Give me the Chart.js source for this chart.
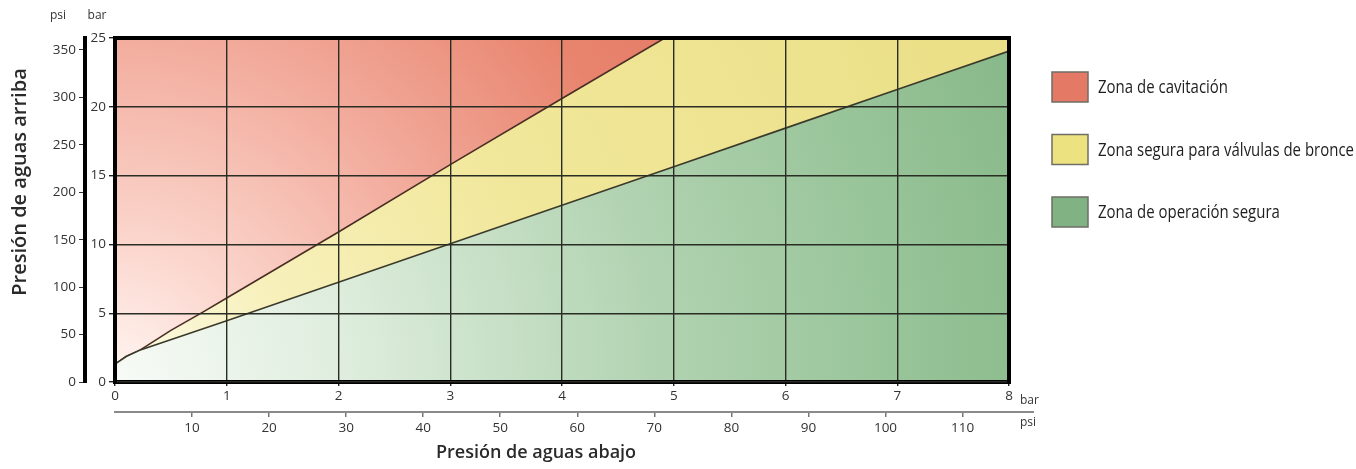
<!DOCTYPE html>
<html lang="es">
<head>
  <meta charset="UTF-8" />
  <title>Presión de aguas arriba vs. aguas abajo</title>
  <script src="https://cdn.jsdelivr.net/npm/chart.js"></script>
  <style>
    html, body { margin: 0; padding: 0; background: #fff; }
  </style>
</head>
<body>
  <canvas id="zonas" width="1356" height="469"></canvas>

  <script>
    const BAR_TO_PSI = 14.5038;

    // presión de aguas abajo (bar) -> presión de aguas arriba (bar)
    const seguraX = [0, 0.1, 0.22, 1, 2, 3, 4, 5, 6, 7, 8];
    const seguraY = [1.3, 1.85, 2.3, 4.45, 7.25, 10.05, 12.85, 15.65, 18.45, 21.25, 24.05];
    const cavitacionX = [0, 0.1, 0.22, 0.5, 0.79, 1, 2, 3, 4, 4.92, 8];
    const cavitacionY = [1.3, 1.85, 2.3, 3.75, 5.1, 6.1, 10.9, 15.8, 20.6, 25, 25];
    const techoX = [0, 8];
    const techoY = [25, 25];

    const barTicksX = [0, 1, 2, 3, 4, 5, 6, 7, 8];
    const barTicksY = [0, 5, 10, 15, 20, 25];
    const psiTicksX = [10, 20, 30, 40, 50, 60, 70, 80, 90, 100, 110];
    const psiTicksY = [0, 50, 100, 150, 200, 250, 300, 350];

    const zonas = ['Zona de cavitación', 'Zona segura para válvulas de bronce', 'Zona de operación segura'];
    const zonaColores = ['#e47a66', '#ece27f', '#80b283'];

    const TICK_FONT = { family: 'Open Sans', size: 13.5 };
    const TICK_COLOR = '#333';
    const GRID = '#2a2d24';

    const toPoints = (xs, ys) => xs.map((x, i) => ({ x, y: ys[i] }));

    // degradado radial desde el origen (abajo a la izquierda), como en el original
    function zonaGradient(stops, radius) {
      return ctx => {
        const chart = ctx.chart;
        const area = chart.chartArea;
        if (!area) return stops[stops.length - 1][1];
        const g = chart.ctx.createRadialGradient(area.left, area.bottom, 0, area.left, area.bottom, radius);
        stops.forEach(([o, c]) => g.addColorStop(o, c));
        return g;
      };
    }

    const rojo = zonaGradient([[0, '#fff6f3'], [0.2, '#fbd6cd'], [0.5, '#f2ab9c'], [0.8, '#e8846e'], [1, '#e47a64']], 700);
    const amarillo = zonaGradient([[0, '#fcfae9'], [0.2, '#f7f0bb'], [0.5, '#f1e79a'], [1, '#ebe088']], 900);
    const verde = zonaGradient([[0, '#f8fbf7'], [0.25, '#dcecdb'], [0.55, '#b0d2b0'], [0.8, '#96c397'], [1, '#84b687']], 1000);

    const ticksFrom = arr => scale => { scale.ticks = arr.map(v => ({ value: v })); };

    const extras = {
      id: 'extras',
      afterDraw(chart) {
        const { ctx, chartArea: a } = chart;
        ctx.save();

        // marco superior y derecho
        ctx.strokeStyle = '#000';
        ctx.lineWidth = 4;
        ctx.beginPath();
        ctx.moveTo(a.left - 2, a.top);
        ctx.lineTo(a.right, a.top);
        ctx.lineTo(a.right, a.bottom + 2);
        ctx.stroke();

        // prolongación de la línea psi inferior
        ctx.strokeStyle = '#8a8a8a';
        ctx.lineWidth = 2;
        ctx.beginPath();
        ctx.moveTo(a.right, 412);
        ctx.lineTo(1034, 412);
        ctx.stroke();

        // unidades
        ctx.fillStyle = '#333';
        ctx.font = '12px "Open Sans"';
        ctx.textAlign = 'center';
        ctx.textBaseline = 'middle';
        ctx.fillText('psi', 58, 16);
        ctx.fillText('bar', 97, 16);
        ctx.textAlign = 'left';
        ctx.fillText('bar', 1020, 401);
        ctx.fillText('psi', 1020, 423);

        // títulos de ejes
        ctx.fillStyle = '#2a2a2a';
        ctx.font = '600 18px "Open Sans"';
        ctx.textAlign = 'center';
        ctx.fillText('Presión de aguas abajo', 536, 453);
        ctx.save();
        ctx.translate(20, 182);
        ctx.rotate(-Math.PI / 2);
        ctx.font = '600 20px "Open Sans"';
        ctx.fillText('Presión de aguas arriba', 0, 0);
        ctx.restore();

        // leyenda (texto estrecho, comprimido para caber como en el original)
        ctx.font = '19px "Open Sans"';
        ctx.textAlign = 'left';
        const widest = Math.max(...zonas.map(z => ctx.measureText(z).width));
        const squeeze = Math.min(1, 256 / widest);
        zonas.forEach((z, i) => {
          const y = 72 + i * 62.5;
          ctx.fillStyle = zonaColores[i];
          ctx.fillRect(1052, y, 36, 30);
          ctx.strokeStyle = '#6e6e66';
          ctx.lineWidth = 1.5;
          ctx.strokeRect(1052, y, 36, 30);
          ctx.fillStyle = '#1e1e1e';
          ctx.save();
          ctx.translate(1098, y + 16);
          ctx.scale(squeeze, 1);
          ctx.fillText(z, 0, 0);
          ctx.restore();
        });

        ctx.restore();
      }
    };

    new Chart(document.getElementById('zonas'), {
      type: 'line',
      data: {
        datasets: [
          {
            label: zonas[2],
            data: toPoints(seguraX, seguraY),
            fill: 'origin',
            backgroundColor: verde,
            borderColor: '#3b3a2a',
            borderWidth: 1.6,
            pointRadius: 0
          },
          {
            label: zonas[1],
            data: toPoints(cavitacionX, cavitacionY),
            fill: '-1',
            backgroundColor: amarillo,
            borderColor: '#4a2e24',
            borderWidth: 1.6,
            pointRadius: 0
          },
          {
            label: zonas[0],
            data: toPoints(techoX, techoY),
            fill: '-1',
            backgroundColor: rojo,
            borderWidth: 0,
            pointRadius: 0
          }
        ]
      },
      options: {
        responsive: false,
        animation: false,
        layout: { padding: { left: 0, top: 38, right: 347, bottom: 0 } },
        plugins: {
          legend: { display: false },
          tooltip: { enabled: false }
        },
        scales: {
          x: {
            type: 'linear', position: 'bottom', weight: 0,
            min: 0, max: 8,
            afterBuildTicks: ticksFrom(barTicksX),
            afterFit: s => { s.height = 30; },
            grid: { z: 1, color: GRID, lineWidth: 1.4, tickLength: 4, tickColor: '#222' },
            border: { z: 1, color: '#000', width: 4 },
            ticks: { font: TICK_FONT, color: TICK_COLOR, padding: 2, maxRotation: 0, autoSkip: false }
          },
          xPsi: {
            type: 'linear', position: 'bottom', weight: 1,
            min: 0, max: 8 * BAR_TO_PSI,
            afterBuildTicks: ticksFrom(psiTicksX),
            afterFit: s => { s.height = 57; },
            grid: { drawOnChartArea: false, tickLength: 5, tickColor: '#777', lineWidth: 1.5 },
            border: { color: '#8a8a8a', width: 2 },
            ticks: { font: TICK_FONT, color: TICK_COLOR, padding: 3, maxRotation: 0, autoSkip: false }
          },
          y: {
            type: 'linear', position: 'left', weight: 0,
            min: 0, max: 25,
            afterBuildTicks: ticksFrom(barTicksY),
            afterFit: s => { s.width = 30; },
            grid: { z: 1, color: GRID, lineWidth: 1.4, tickLength: 6, tickColor: '#222' },
            border: { z: 1, color: '#000', width: 4 },
            ticks: { font: TICK_FONT, color: TICK_COLOR, padding: 3 }
          },
          yPsi: {
            type: 'linear', position: 'left', weight: 1,
            min: 0, max: 25 * BAR_TO_PSI,
            afterBuildTicks: ticksFrom(psiTicksY),
            afterFit: s => { s.width = 85; },
            grid: { drawOnChartArea: false, tickLength: 6, tickColor: '#333' },
            border: { color: '#000', width: 4 },
            ticks: { font: TICK_FONT, color: TICK_COLOR, padding: 3 }
          }
        }
      },
      plugins: [extras]
    });
  </script>
</body>
</html>
